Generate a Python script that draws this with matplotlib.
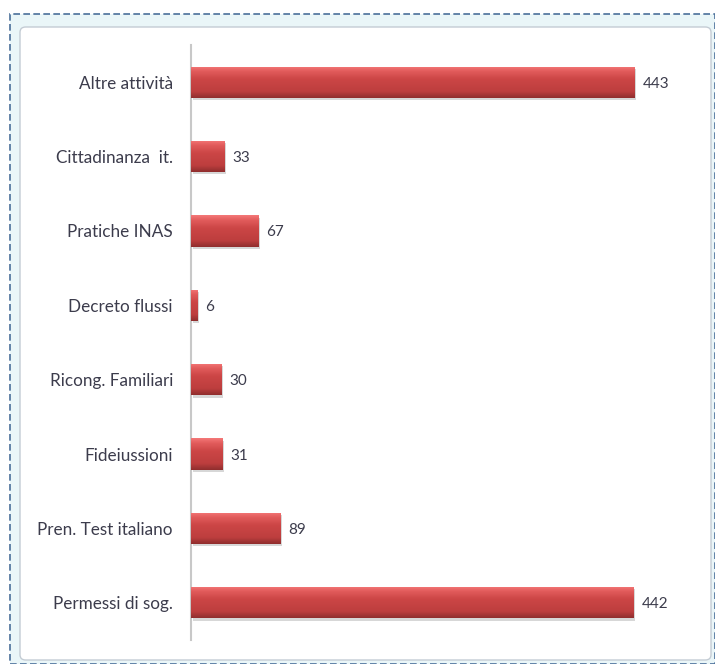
import numpy as np
import matplotlib
matplotlib.use("Agg")
import matplotlib.pyplot as plt
from matplotlib.patches import FancyBboxPatch, Rectangle
from matplotlib.colors import LinearSegmentedColormap

categories = ["Permessi di sog.", "Pren. Test italiano", "Fideiussioni", "Ricong. Familiari",
              "Decreto flussi", "Pratiche INAS", "Cittadinanza  it.", "Altre attività"]
values = [442, 89, 31, 30, 6, 67, 33, 443]

W, H = 715, 664
fig = plt.figure(figsize=(W / 100, H / 100), dpi=100)
fig.patch.set_facecolor("white")
FONT = ["Lato", "DejaVu Sans"]

# outer dashed frame
fig.patches.append(Rectangle((10 / W, 0), (W - 10) / W, (H - 14) / H, transform=fig.transFigure,
                             fill=True, facecolor="#eaf6f8", edgecolor="#4a6f9a", lw=1.2,
                             linestyle=(0, (4, 2)), zorder=0))
# inner rounded chart area
fig.patches.append(FancyBboxPatch((20 / W, 4 / H), (W - 24) / W, (H - 31) / H,
                                  boxstyle="round,pad=0,rounding_size=0.008",
                                  transform=fig.transFigure, facecolor="white",
                                  edgecolor="#c4ccd4", lw=1.0, zorder=1))

ax = fig.add_axes([191 / W, 1 - 640 / H, (700 - 191) / W, 595 / H])
ax.set_zorder(2)
ax.patch.set_alpha(0)
y = np.arange(len(categories))
bars = ax.barh(y, values, height=0.42, color="#c84040", zorder=3)

ax.set_xlim(0, (700 - 191) / 1.002)
ax.set_ylim(-0.5, len(categories) - 0.5)

# gradient + shadow
grad = np.linspace(0, 1, 64).reshape(-1, 1)
cmap = LinearSegmentedColormap.from_list("g", [(0, "#f47878"), (0.15, "#e25c5c"), (0.4, "#cc4646"),
                                              (0.8, "#bd3e3e"), (1, "#902e2e")])
for b in bars:
    x0, y0, w, h = b.get_x(), b.get_y(), b.get_width(), b.get_height()
    ax.add_patch(Rectangle((x0 + 1.5, y0 - 0.03), w, h, facecolor="#b0b0b0", alpha=0.5,
                           lw=0, zorder=2))
    im = ax.imshow(grad, extent=(x0, x0 + w, y0, y0 + h), origin="upper", cmap=cmap,
                   aspect="auto", zorder=3.5, interpolation="bilinear")
    im.set_clip_path(b)

for yi, v in zip(y, values):
    ax.text(v + 8, yi, str(v), va="center_baseline", ha="left", fontsize=11, color="#3c3c4c",
            family=FONT)

ax.set_yticks(y)
ax.set_yticklabels(categories, fontsize=12.3, color="#3c3c4c", family=FONT,
                   va="center_baseline")
ax.tick_params(axis="y", length=0, pad=13)
ax.set_xticks([])
for s in ["top", "right", "bottom"]:
    ax.spines[s].set_visible(False)
ax.spines["left"].set_color("#c8c8c8")
ax.spines["left"].set_linewidth(1.5)

fig.savefig("out.png", dpi=100)
